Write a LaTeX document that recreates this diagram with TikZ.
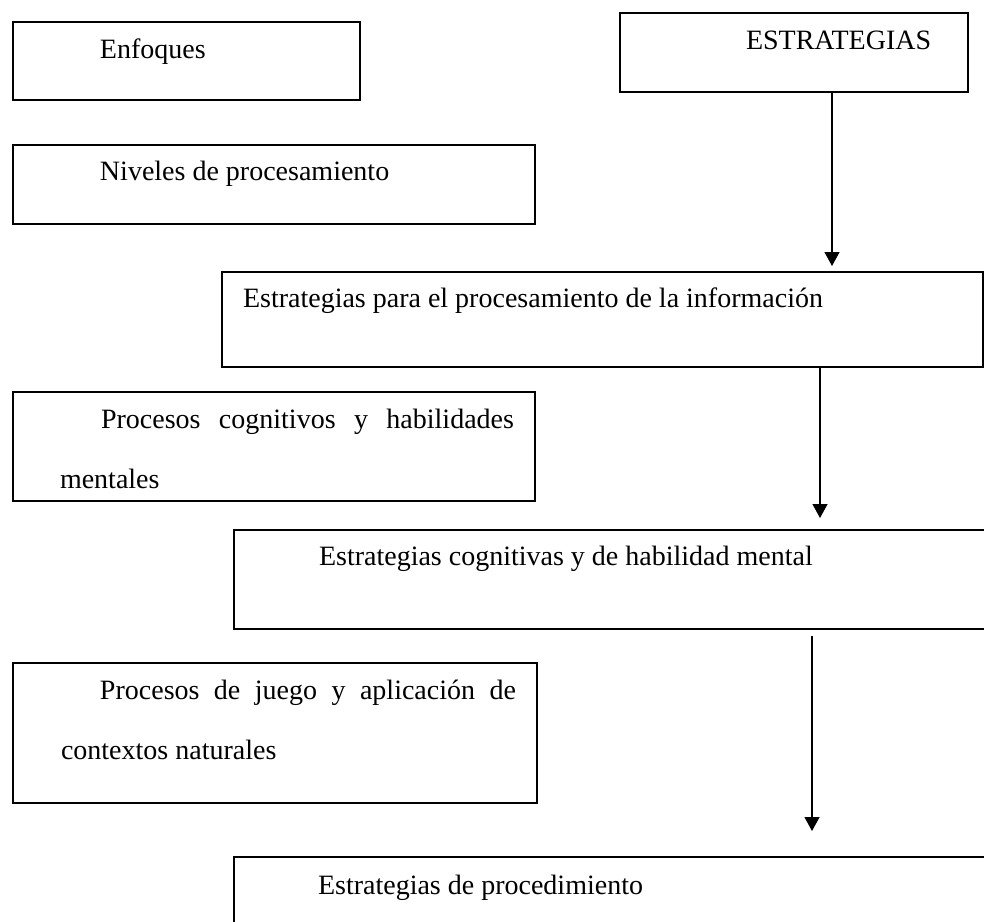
\documentclass[tikz,border=0pt]{standalone}
\usepackage{fontspec}
\setmainfont{Liberation Serif}
\usepackage{tikz}
\usetikzlibrary{
  positioning,
  arrows.meta,
}
\tikzset{
  caja/.style={
    draw,
    black,
    line width=1pt,
    anchor=north west,
    inner sep=0pt,
    align=justify,
    text height=18pt
  },
  flecha/.style={
    -{Triangle[width=7.5pt,length=7pt]},
    line width=0.6pt
  }
}
\tolerance=10000

\begin{document}
\begin{tikzpicture}[font=\fontsize{14}{30}\selectfont]
  \useasboundingbox (0,0) rectangle (492pt,-460.5pt);
  \clip (0,0) rectangle (492pt,-460.5pt);

  % columna izquierda
  \node[caja, text width=173.5pt, text depth=21pt] (enfoques) at (6pt,-10.5pt)
    {\hspace*{43.5pt}Enfoques};
  \node[caja, text width=261pt, text height=17.5pt, text depth=22pt,
    below=21.5pt of enfoques.south west, anchor=north west] (niveles)
    {\hspace*{43.5pt}Niveles de procesamiento};
  \node[caja, text width=261pt, text depth=36.5pt,
    below=83pt of niveles.south west, anchor=north west] (cognitivos)
    {\hspace*{23.5pt}\parbox[t]{227pt}{\hspace*{20.5pt}Procesos cognitivos y habilidades\linebreak mentales}};
  \node[caja, text width=262pt, text depth=52pt,
    below=80pt of cognitivos.south west, anchor=north west] (juego)
    {\hspace*{24pt}\parbox[t]{227.5pt}{\hspace*{19.5pt}Procesos de juego y aplicación de\linebreak contextos naturales}};

  % columna derecha
  \node[caja, text width=174pt, text depth=21.5pt] (estrategias) at (309.5pt,-6pt)
    {\hspace*{63pt}ESTRATEGIAS};
  \node[caja, text width=380.5pt, text height=17.5pt, text depth=30pt,
    below=23pt of niveles.south west, xshift=104.5pt, anchor=north west] (procinfo)
    {\hspace*{10.5pt}Estrategias para el procesamiento de la información};
  \node[caja, text width=400pt, text height=17.5pt, text depth=32pt,
    below=80.5pt of procinfo.south west, xshift=6pt, anchor=north west] (cogestr)
    {\hspace*{42.5pt}Estrategias cognitivas y de habilidad mental};
  \node[caja, text width=400pt, text height=18.5pt, text depth=41.5pt,
    below=113pt of cogestr.south west, anchor=north west] (proced)
    {\hspace*{42pt}Estrategias de procedimiento};

  % flechas
  \coordinate (f1) at ([xshift=19pt]estrategias.south);
  \coordinate (f2) at ([xshift=108.75pt]procinfo.south);
  \coordinate (f3) at ([xshift=89pt]cogestr.south);
  \draw[flecha, shorten >=2.5pt] (f1) -- (f1 |- procinfo.north);
  \draw[flecha, shorten >=5.5pt] (f2) -- (f2 |- cogestr.north);
  \draw[flecha, shorten <=3pt, shorten >=12.5pt] (f3) -- (f3 |- proced.north);
\end{tikzpicture}
\end{document}
